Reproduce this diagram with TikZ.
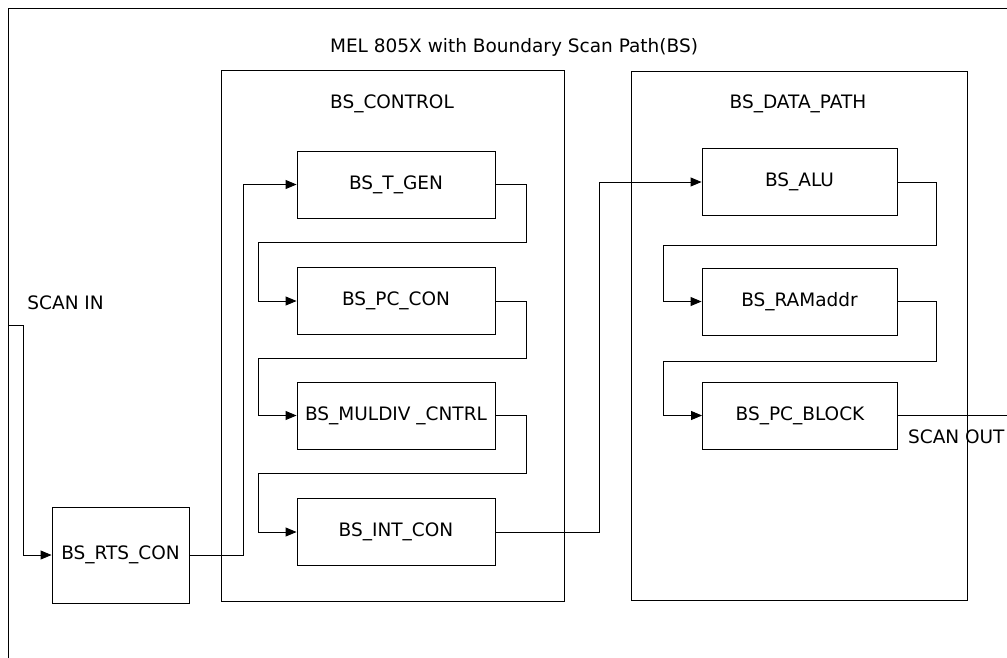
\documentclass[tikz,border=0pt]{standalone}
\usepackage{fontspec}
\setmainfont{DejaVu Sans}
\usetikzlibrary{arrows.meta}

\begin{document}
\begin{tikzpicture}[x=1pt,y=-1pt,>={Triangle[length=11pt,width=9pt]},line width=0.9pt,
  lbl/.style={font=\fontsize{18.5}{21}\selectfont,inner sep=0pt},
  box/.style={draw,font=\fontsize{18.5}{21}\selectfont,minimum width=198pt,minimum height=67pt,inner sep=0pt},
  frame/.style={draw,inner sep=0pt}]
\path[use as bounding box,clip] (0,0) rectangle (1007,657);

% outer frame
\draw (8,670) -- (8,8) -- (1020,8);
\node[lbl] (title) at (514,47) {MEL 805X with Boundary Scan Path(BS)};

% control part
\node[frame,minimum width=343pt,minimum height=531pt] (control) at (392.5,335.5) {};
\node[lbl] (controllbl) at (392,104) {BS\_CONTROL};
\node[box] (tgen) at (396,184.5) {BS\_T\_GEN};
\node[box] (pccon) at (396,301) {BS\_PC\_CON};
\node[box] (muldiv) at (396,415.5) {BS\_MULDIV \_CNTRL};
\node[box] (intcon) at (396,532) {BS\_INT\_CON};

% data path part
\node[frame,minimum width=336pt,minimum height=529pt] (datapath) at (799,335.5) {};
\node[lbl] (datapathlbl) at (798,104) {BS\_DATA\_PATH};
\node[box,minimum width=195pt] (alu) at (799.5,182) {BS\_ALU};
\node[box,minimum width=195pt] (ramaddr) at (799.5,301.5) {BS\_RAMaddr};
\node[box,minimum width=195pt] (pcblock) at (800,415.5) {BS\_PC\_BLOCK};

\node[box,minimum width=137pt,minimum height=96pt] (rts) at (120.5,555) {BS\_RTS\_CON};

% scan chain
\node[lbl,anchor=west] (scaninlbl) at (27,303) {SCAN IN};
\coordinate (scanin) at (8,325);
\draw[->] (scanin) -- ++(15,0) |- (rts);
\draw[->] (rts.east) -- ++(54,0) |- (tgen);
\foreach \a/\b/\y in {tgen/pccon/242,pccon/muldiv/358,muldiv/intcon/473}
  \draw[->] (\a.east) -- ++(31,0) |- (258,\y) |- (\b);
\draw[->] (intcon.east) -- ++(104,0) |- (alu);
\foreach \a/\b/\y in {alu/ramaddr/245,ramaddr/pcblock/361}
  \draw[->] (\a.east) -- ++(39,0) |- (663,\y) |- (\b);
\coordinate (scanout) at (1020,415.5);
\draw (pcblock) -- (scanout);
\node[lbl,anchor=east] (scanoutlbl) at (1005,437) {SCAN OUT};
\end{tikzpicture}
\end{document}
